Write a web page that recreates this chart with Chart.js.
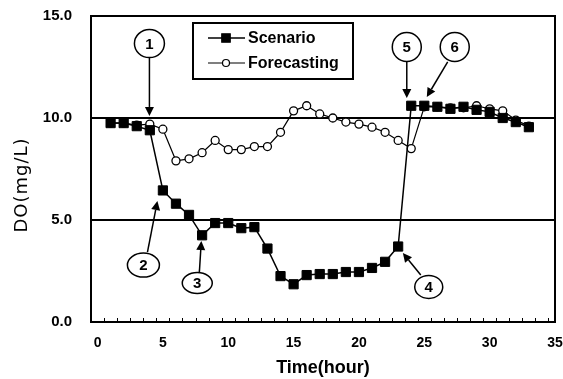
<!DOCTYPE html>
<html>
<head>
<meta charset="utf-8">
<script src="https://cdn.jsdelivr.net/npm/chart.js@4/dist/chart.umd.min.js"></script>
<style>
  html, body { margin: 0; padding: 0; background: #fff; }
  #wrap { width: 563px; height: 379px; }
</style>
</head>
<body>
<div id="wrap"><canvas id="c"></canvas></div>
<script>
// ─── Data ────────────────────────────────────────────────────────────────────
const hours = [1, 2, 3, 4, 5, 6, 7, 8, 9, 10, 11, 12, 13, 14, 15, 16, 17,
  18, 19, 20, 21, 22, 23, 24, 25, 26, 27, 28, 29, 30, 31, 32, 33];
const scenario = [9.75, 9.75, 9.6, 9.4, 6.45, 5.8, 5.25, 4.25, 4.85, 4.85, 4.6, 4.65,
  3.6, 2.25, 1.85, 2.3, 2.35, 2.35, 2.45, 2.45, 2.65, 2.95, 3.7,
  10.6, 10.6, 10.55, 10.45, 10.55, 10.4, 10.3, 10.0, 9.8, 9.55];
const forecasting = [9.75, 9.75, 9.65, 9.7, 9.45, 7.9, 8.0, 8.3, 8.9, 8.45, 8.45, 8.6,
  8.6, 9.3, 10.35, 10.6, 10.2, 10.0, 9.8, 9.7, 9.55, 9.3, 8.9,
  8.5, 10.55, 10.55, 10.5, 10.5, 10.6, 10.45, 10.35, 9.9, 9.6];
const xTickVals = [0, 5, 10, 15, 20, 25, 30, 35];
const yTickVals = [0, 5, 10, 15];
const refLevels = [5, 10];
const yTitle = 'DO(mg/L)';
// numbered callouts: circle centre and arrow, in data units (hour, mg/L)
const calloutLabels = ['1', '2', '3', '4', '5', '6'];
const calloutCentres = [[3.97, 13.65], [3.51, 2.79], [7.63, 1.91], [25.34, 1.72], [23.66, 13.48], [27.33, 13.48]];
const arrowFrom = [[3.97, 12.94], [3.82, 3.43], [7.79, 2.45], [24.73, 2.30], [23.66, 12.75], [26.79, 12.75]];
const arrowTo = [[3.97, 10.1], [4.58, 5.93], [7.94, 3.97], [23.36, 3.38], [23.66, 10.98], [25.19, 11.03]];

const INK = '#000';
const FONT = '"Liberation Sans", Arial, sans-serif';

// ─── Frame, minor ticks, legend box, callouts ────────────────────────────────
const decor = {
  id: 'decor',
  afterDatasetsDraw(chart) {
    const { ctx, chartArea: a, scales: { x, y } } = chart;
    ctx.save();
    ctx.strokeStyle = INK;
    ctx.fillStyle = INK;

    // plot frame
    ctx.lineWidth = 2;
    ctx.strokeRect(a.left, a.top, a.right - a.left, a.bottom - a.top);

    // minor ticks every hour, between the categories
    ctx.lineWidth = 1;
    for (let k = 0; k < 35; k++) {
      const px = Math.round(x.getPixelForValue(k + 0.5)) + 0.5;
      ctx.beginPath(); ctx.moveTo(px, a.bottom); ctx.lineTo(px, a.bottom - 4); ctx.stroke();
    }

    // y title (sits a little below the plot centre in the original)
    ctx.save();
    ctx.translate(22, 185);
    ctx.rotate(-Math.PI / 2);
    ctx.font = '18px "DejaVu Sans", sans-serif';
    ctx.letterSpacing = '1px';
    ctx.textAlign = 'center'; ctx.textBaseline = 'middle';
    ctx.fillText(yTitle, 0, 0);
    ctx.restore();

    // legend
    const lx = 193, ly = 23, lw = 160, lh = 56;
    ctx.fillStyle = '#fff';
    ctx.fillRect(lx, ly, lw, lh);
    ctx.lineWidth = 2;
    ctx.strokeRect(lx, ly, lw, lh);
    const rows = [
      { text: 'Scenario', style: 'rect', fill: INK, r: 6, w: 1.5, yy: ly + 15 },
      { text: 'Forecasting', style: 'circle', fill: '#fff', r: 3.5, w: 1.2, yy: ly + 40 }
    ];
    rows.forEach(row => {
      ctx.strokeStyle = INK; ctx.lineWidth = row.w;
      ctx.beginPath(); ctx.moveTo(lx + 15, row.yy); ctx.lineTo(lx + 52, row.yy); ctx.stroke();
      ctx.fillStyle = row.fill; ctx.lineWidth = 1.2;
      Chart.helpers.drawPoint(ctx, { pointStyle: row.style, radius: row.r, borderWidth: 1.2 }, lx + 33, row.yy);
      ctx.fillStyle = INK;
      ctx.font = 'bold 16px ' + FONT;
      ctx.textAlign = 'left'; ctx.textBaseline = 'middle';
      ctx.fillText(row.text, lx + 55, row.yy + 1);
    });

    // callouts
    const radii = [[15, 14], [16, 12], [15, 10.5], [14, 11.5], [14.5, 14.5], [14.5, 14.5]];
    calloutLabels.forEach((lab, i) => {
      const cx = x.getPixelForValue(calloutCentres[i][0]);
      const cy = y.getPixelForValue(calloutCentres[i][1]);
      ctx.fillStyle = '#fff';
      ctx.strokeStyle = INK; ctx.lineWidth = 1.5;
      ctx.beginPath(); ctx.ellipse(cx, cy, radii[i][0], radii[i][1], 0, 0, Math.PI * 2);
      ctx.fill(); ctx.stroke();
      ctx.fillStyle = INK;
      ctx.font = 'bold 15px ' + FONT;
      ctx.textAlign = 'center'; ctx.textBaseline = 'middle';
      ctx.fillText(lab, cx, cy + 1);

      const x0 = x.getPixelForValue(arrowFrom[i][0]), y0 = y.getPixelForValue(arrowFrom[i][1]);
      const x1 = x.getPixelForValue(arrowTo[i][0]), y1 = y.getPixelForValue(arrowTo[i][1]);
      const ang = Math.atan2(y1 - y0, x1 - x0);
      const hl = 9, hw = 4.5;
      const bx = x1 - hl * Math.cos(ang), by = y1 - hl * Math.sin(ang);
      ctx.lineWidth = 1.5;
      ctx.beginPath(); ctx.moveTo(x0, y0); ctx.lineTo(bx, by); ctx.stroke();
      ctx.beginPath();
      ctx.moveTo(x1, y1);
      ctx.lineTo(bx + hw * Math.sin(ang), by - hw * Math.cos(ang));
      ctx.lineTo(bx - hw * Math.sin(ang), by + hw * Math.cos(ang));
      ctx.closePath(); ctx.fill();
    });
    ctx.restore();
  }
};

// ─── Chart ───────────────────────────────────────────────────────────────────
new Chart(document.getElementById('c'), {
  type: 'line',
  data: {
    datasets: [
      {
        label: 'Scenario',
        data: hours.map((h, i) => ({ x: h, y: scenario[i] })),
        borderColor: INK, borderWidth: 1.5,
        pointStyle: 'rect', pointRadius: 6.5, pointBackgroundColor: INK,
        pointBorderColor: INK, pointBorderWidth: 1, tension: 0
      },
      {
        label: 'Forecasting',
        data: hours.map((h, i) => ({ x: h, y: forecasting[i] })),
        borderColor: INK, borderWidth: 1.2,
        pointStyle: 'circle', pointRadius: 4, pointBackgroundColor: '#fff',
        pointBorderColor: INK, pointBorderWidth: 1.3, tension: 0
      }
    ]
  },
  options: {
    responsive: true, maintainAspectRatio: false, animation: false,
    events: [],
    layout: { padding: { top: 16, right: 8, left: 0, bottom: 0 } },
    plugins: { legend: { display: false }, tooltip: { enabled: false } },
    scales: {
      x: {
        type: 'linear', min: -0.5, max: 35,
        afterBuildTicks: axis => { axis.ticks = xTickVals.map(v => ({ value: v })); },
        afterFit: s => { s.height = 57; s.paddingLeft = 0; s.paddingRight = 0; },
        grid: { display: false, drawTicks: false },
        border: { display: false },
        ticks: { color: INK, padding: 13, maxRotation: 0, font: { family: FONT, size: 14, weight: 'bold' } },
        title: { display: true, text: 'Time(hour)', color: INK, padding: { top: 0, bottom: 0 },
          font: { family: FONT, size: 18, weight: 'bold' } }
      },
      y: {
        min: 0, max: 15,
        afterBuildTicks: axis => { axis.ticks = yTickVals.map(v => ({ value: v })); },
        afterFit: s => { s.width = 91; s.paddingTop = 0; s.paddingBottom = 0; },
        grid: {
          drawTicks: false, lineWidth: 2,
          color: c => refLevels.includes(c.tick.value) ? INK : 'rgba(0,0,0,0)'
        },
        border: { display: false },
        ticks: { color: INK, padding: 19, callback: v => v.toFixed(1),
          font: { family: FONT, size: 15, weight: 'bold' } }
      }
    }
  },
  plugins: [decor]
});
</script>
</body>
</html>
